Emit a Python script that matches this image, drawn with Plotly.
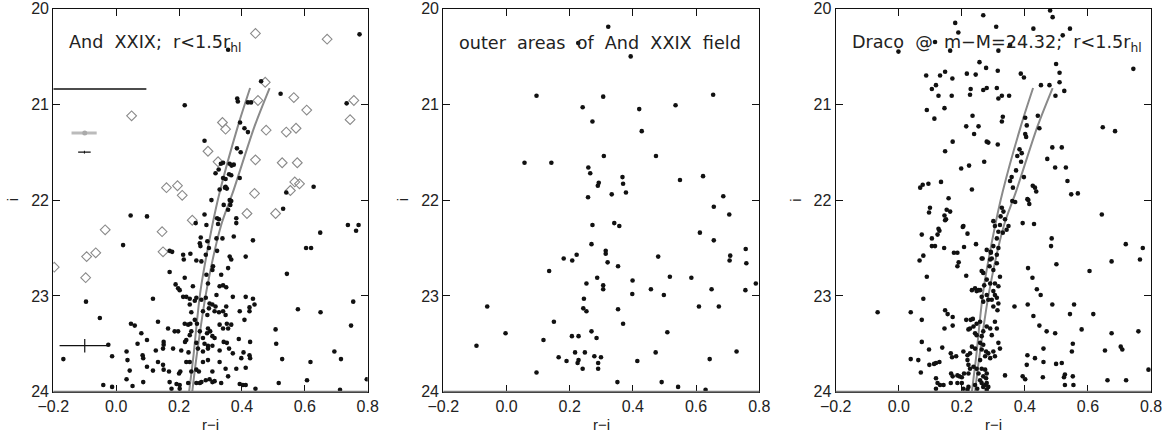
import plotly.graph_objects as go

# ---------------- data ----------------
# Panel 1: And XXIX, r < 1.5 r_hl  (black dots)
p1_ri = [0.774,0.356,0.461,0.523,0.385,0.387,0.419,0.429,0.218,0.733,0.394,0.408,0.419,0.281,0.384,0.396,
0.333,0.340,0.361,0.374,0.367,0.326,0.316,0.359,0.366,0.340,0.348,0.393,0.348,0.352,0.346,0.329,0.303,0.361,
0.366,0.363,0.342,0.356,0.281,0.321,0.327,0.382,0.382,0.253,0.287,0.324,0.098,0.046,
0.269,0.266,0.268,0.295,0.290,0.319,0.338,0.374,0.435,0.170,0.178,0.213,0.215,0.236,0.255,0.271,0.285,0.321,
0.361,0.366,0.412,0.308,0.306,0.356,0.170,0.287,0.334,0.218,0.189,0.197,0.202,0.244,0.292,0.329,0.340,0.350,
0.213,0.223,0.234,0.250,0.255,0.271,0.285,0.319,0.371,0.412,0.435,0.440,0.117,0.234,0.297,0.306,0.295,0.316,
0.350,0.393,0.424,0.239,0.276,0.313,0.327,0.340,0.348,0.290,0.424,0.133,0.165,0.186,0.197,0.218,0.229,0.236,
0.250,0.257,0.292,0.299,0.289,0.306,0.329,0.352,0.366,0.408,0.239,0.234,0.266,0.276,0.340,0.356,0.313,0.342,
0.352,0.390,0.426,0.223,0.219,0.255,0.281,0.292,0.151,0.151,0.080,0.098,0.181,0.126,0.149,0.207,0.230,0.260,
0.276,0.292,0.306,0.329,0.359,0.371,0.405,0.424,0.426,0.398,0.084,0.086,0.098,0.117,0.133,0.149,0.151,0.168,
0.200,0.204,0.223,0.234,0.239,0.255,0.263,0.276,0.292,0.306,0.329,0.348,0.356,0.382,0.412,0.086,0.170,0.192,
0.202,0.229,0.255,0.266,0.271,0.285,0.297,0.306,0.313,0.334,0.393,0.403,0.412,0.443,0.176,0.202,
0.022,-0.096,-0.052,0.047,0.059,0.068,0.033,0.036,0.043,0.033,0.052,-0.013,-0.025,-0.168,-0.041,-0.013,
0.543,0.578,0.650,0.754,0.747,0.694,0.715,0.507,0.509,0.528,0.618,0.607,0.517,0.712,0.797,0.737,0.763,0.771,
0.649,0.604,0.620,0.531,0.541,0.628]
p1_i = [20.27,20.43,20.76,20.89,20.94,20.97,20.98,20.98,21.01,20.99,21.19,21.25,21.29,21.38,21.46,21.50,
21.62,21.61,21.62,21.63,21.64,21.68,21.72,21.73,21.74,21.77,21.78,21.77,21.86,21.88,21.87,21.89,22.00,22.00,
22.01,22.05,22.05,22.10,22.15,22.19,22.20,22.19,22.24,22.24,22.26,22.25,22.17,22.16,
22.39,22.45,22.48,22.50,22.43,22.40,22.40,22.38,22.42,22.53,22.54,22.57,22.62,22.56,22.63,22.64,22.57,22.53,
22.59,22.62,22.59,22.69,22.73,22.71,22.75,22.78,22.78,22.81,22.88,22.92,22.94,22.90,22.87,22.90,22.89,22.91,
23.01,23.01,23.03,23.05,23.02,23.04,23.02,22.99,23.01,23.01,23.03,23.09,23.03,23.09,23.08,23.09,23.13,23.11,
23.11,23.16,23.12,23.17,23.16,23.16,23.17,23.16,23.20,23.20,23.16,23.27,23.34,23.37,23.37,23.29,23.30,23.29,
23.25,23.29,23.34,23.37,23.39,23.42,23.30,23.29,23.30,23.25,23.37,23.41,23.37,23.44,23.34,23.34,23.44,23.48,
23.49,23.45,23.48,23.46,23.48,23.49,23.50,23.52,23.48,23.51,23.39,23.46,23.55,23.57,23.55,23.57,23.59,23.55,
23.58,23.55,23.52,23.57,23.55,23.60,23.59,23.62,23.65,23.65,23.62,23.65,23.74,23.78,23.69,23.72,23.77,23.79,
23.81,23.79,23.69,23.69,23.79,23.77,23.79,23.69,23.67,23.79,23.69,23.76,23.84,23.76,23.75,23.90,23.90,23.92,
23.93,23.91,23.91,23.91,23.90,23.88,23.87,23.90,23.89,23.91,23.92,23.93,23.93,23.97,23.97,23.97,
22.47,23.06,23.23,23.29,23.31,23.50,23.58,23.67,23.78,23.87,23.94,23.63,23.51,23.66,23.93,23.95,
22.77,23.14,23.17,23.06,23.31,23.58,23.66,23.35,23.50,23.66,23.69,23.88,23.91,23.98,23.87,22.26,22.32,22.26,
22.34,22.50,22.50,22.09,21.92,21.86]

# Panel 1: open diamonds
dia_ri = [0.443,0.671,0.474,0.451,0.756,0.565,0.606,0.744,0.049,0.338,0.348,0.477,0.541,0.572,0.292,0.324,
0.443,0.528,0.576,0.568,0.583,0.554,0.440,0.160,0.195,0.210,0.507,0.416,0.242,-0.035,0.146,0.149,-0.094,
-0.065,-0.197,-0.097]
dia_i = [20.26,20.32,20.77,20.96,20.96,20.93,21.06,21.16,21.12,21.19,21.26,21.27,21.29,21.25,21.49,21.60,
21.58,21.61,21.61,21.81,21.83,21.90,21.93,21.87,21.85,21.95,22.14,22.14,22.21,22.31,22.33,22.54,22.59,
22.55,22.70,22.81]

# Panel 2: outer areas of And XXIX field
p2_ri = [0.322,0.227,0.393,0.095,0.306,0.654,0.241,0.420,0.535,0.272,0.428,0.308,0.473,0.057,0.142,0.259,
0.265,0.367,0.369,0.292,0.289,0.378,0.333,0.258,0.622,0.549,0.686,0.656,0.705,0.612,0.656,0.341,0.357,0.272,
0.269,0.314,0.314,0.320,0.353,0.222,0.208,0.181,0.480,0.135,0.287,0.253,0.306,0.306,0.399,0.398,0.457,0.498,
0.517,0.585,0.649,0.756,0.789,0.757,0.708,0.706,0.759,0.245,0.243,0.253,0.353,0.369,0.609,0.672,-0.061,
-0.003,-0.095,0.150,0.117,0.207,0.228,0.269,0.285,0.509,0.217,0.248,0.165,0.190,0.228,0.225,0.241,0.278,
0.299,0.290,0.290,0.095,0.414,0.472,0.643,0.728,0.351,0.491,0.543,0.630]
p2_i = [20.19,20.36,20.50,20.91,20.92,20.90,21.03,21.05,21.01,21.18,21.28,21.54,21.54,21.61,21.61,21.66,
21.72,21.76,21.83,21.82,21.85,21.92,21.94,21.97,21.75,21.79,21.96,22.07,22.15,22.34,22.42,22.24,22.27,22.26,
22.46,22.53,22.56,22.65,22.69,22.57,22.63,22.61,22.59,22.74,22.81,22.87,22.89,22.93,22.84,22.98,22.93,22.99,
22.80,22.81,22.93,22.94,22.87,22.51,22.58,22.63,22.66,23.03,23.13,23.16,23.14,23.29,23.11,23.11,23.11,
23.39,23.52,23.27,23.46,23.42,23.42,23.37,23.44,23.38,23.59,23.59,23.64,23.68,23.67,23.70,23.76,23.63,
23.64,23.70,23.76,23.80,23.68,23.59,23.66,23.58,23.90,23.90,23.95,23.98]

# Panel 3: Draco shifted to m-M = 24.32
p3_ri = [0.268,0.179,0.309,0.189,0.115,0.163,-0.001,0.316,0.480,0.488,0.427,0.543,0.520,0.353,0.256,0.277,
0.314,0.216,0.087,0.131,0.147,0.170,0.244,0.387,0.397,0.499,0.510,0.105,0.118,0.126,0.168,0.228,0.226,0.268,
0.279,0.311,0.316,0.327,0.350,0.451,0.478,0.510,0.525,0.497,0.089,0.145,0.113,0.234,0.330,0.327,0.214,0.253,
0.239,0.171,0.147,0.279,0.284,0.314,0.223,0.198,0.271,0.232,0.068,0.076,0.094,0.134,0.158,0.099,0.096,0.152,
0.163,0.145,0.150,0.126,0.205,0.441,0.401,0.406,0.401,0.404,0.446,0.383,0.390,0.376,0.388,0.372,0.358,0.353,
0.362,0.360,0.369,0.397,0.411,0.414,0.327,0.332,0.323,0.337,0.321,0.300,0.305,0.348,0.342,0.316,0.330,0.393,
0.429,0.425,0.432,0.436,0.408,0.311,0.300,0.316,0.292,0.311,0.295,0.288,0.266,
0.744,0.647,0.686,0.487,0.517,0.471,0.496,0.530,0.535,0.547,0.568,0.644,0.720,0.774,0.765,0.675,0.605,0.500,
0.485,0.483,0.410,0.424,0.438,0.450,0.367,0.409,0.487,0.427,0.446,0.469,0.496,0.543,0.556,0.580,0.617,0.675,
0.704,0.709,0.760,0.654,0.552,0.549,0.517,0.499,0.527,0.524,0.552,0.554,0.527,0.408,0.432,0.459,0.459,0.406,
0.393,0.401,0.457,0.337,0.662,0.721,0.792,-0.067,0.038,
0.147,0.203,0.218,0.073,0.105,0.123,0.129,0.105,0.115,0.144,0.175,0.186,0.207,0.245,0.078,0.066,0.190,0.186,
0.214,0.089,0.263,0.279,0.292,0.290,0.300,0.311,0.263,0.268,0.232,0.242,0.253,0.247,0.258,0.263,0.279,0.268,
0.284,0.300,0.305,0.295,0.311,0.316,0.300,0.313,0.078,0.073,0.147,0.155,0.171,0.145,0.171,0.214,0.228,0.235,
0.221,0.226,0.247,0.258,0.237,0.242,0.247,0.263,0.268,0.279,0.290,0.295,0.305,0.311,0.073,0.096,0.138,0.165,
0.169,0.182,0.205,0.218,0.232,0.242,0.226,0.258,0.268,0.263,0.277,0.284,0.274,0.290,0.300,0.305,0.218,0.038,
0.062,0.097,0.112,0.118,0.129,0.070,0.118,0.123,0.131,0.142,0.118,0.166,0.171,0.165,0.186,0.192,0.200,0.200,
0.186,0.207,0.221,0.226,0.221,0.237,0.247,0.253,0.258,0.263,0.268,0.274,0.279,0.277,0.258,0.263,0.268,0.274,
0.279,0.284,0.279,0.242,0.249,0.221,0.218,0.205,0.279,0.290,0.271,0.305,0.316,0.321,0.316,0.321]
p3_i = [20.07,20.15,20.19,20.25,20.35,20.44,20.45,20.44,20.02,20.09,20.21,20.21,20.28,20.38,20.56,20.62,
20.65,20.68,20.70,20.70,20.66,20.73,20.69,20.68,20.72,20.58,20.67,20.84,20.80,20.91,20.91,20.84,20.90,20.85,
20.83,20.83,20.94,20.91,20.91,20.80,20.80,20.77,20.86,20.91,21.06,21.04,21.15,21.12,21.13,21.18,21.23,21.23,
21.31,21.39,21.49,21.39,21.40,21.42,21.64,21.67,21.60,21.89,21.87,21.84,21.83,21.81,21.98,22.08,22.13,22.10,
22.12,22.16,22.20,22.30,22.27,21.12,21.14,21.22,21.31,21.34,21.25,21.47,21.51,21.54,21.60,21.69,21.76,21.80,
21.87,22.01,22.02,21.76,22.00,22.04,22.08,22.12,22.17,22.20,22.26,22.22,22.27,22.27,22.31,22.33,22.34,22.24,
22.25,21.85,21.87,21.91,21.99,22.40,22.48,22.50,22.54,22.57,22.61,22.69,22.61,
20.63,21.24,21.28,21.45,21.45,21.57,21.66,21.66,21.80,21.94,21.93,22.15,22.46,22.50,22.62,22.64,22.74,22.67,
22.40,22.48,22.71,22.81,22.93,22.99,23.11,23.09,23.09,23.21,23.31,23.37,23.39,23.19,23.09,23.35,23.19,23.39,
23.53,23.56,23.37,23.57,23.50,23.58,23.70,23.71,23.82,23.85,23.84,23.93,23.93,23.62,23.65,23.55,23.69,23.72,
23.84,23.87,23.85,23.83,23.88,23.88,23.77,23.17,23.17,
22.21,22.28,22.35,22.36,22.40,22.36,22.32,22.48,22.48,22.50,22.55,22.55,22.49,22.46,22.58,22.63,22.65,22.69,
22.79,22.80,22.61,22.52,22.55,22.62,22.73,22.66,22.74,22.76,22.94,22.92,22.94,22.95,22.94,23.01,22.99,23.06,
23.04,22.95,22.99,23.04,23.02,23.08,23.11,23.15,23.03,23.25,23.15,23.19,23.22,23.34,23.31,23.25,23.25,23.24,
23.35,23.34,23.29,23.27,23.32,23.39,23.41,23.42,23.37,23.32,23.34,23.41,23.27,23.34,23.48,23.56,23.54,23.60,
23.64,23.63,23.58,23.62,23.53,23.55,23.60,23.49,23.51,23.56,23.58,23.60,23.63,23.65,23.58,23.63,23.67,23.66,
23.67,23.72,23.71,23.70,23.69,23.80,23.86,23.91,23.93,23.93,23.97,23.81,23.84,23.91,23.83,23.84,23.85,23.91,
23.91,23.81,23.72,23.76,23.81,23.74,23.76,23.81,23.67,23.76,23.84,23.77,23.81,23.86,23.88,23.91,23.95,23.93,
23.91,23.95,23.98,23.93,23.97,23.95,23.98,23.97,22.83,22.87,22.89,22.87,22.90,22.80,23.49,23.55]

# Isochrone ridge lines (same in panels 1 and 3)
iso_a_ri = [0.426,0.387,0.329,0.306,0.268,0.245,0.232]
iso_b_ri = [0.488,0.440,0.371,0.334,0.287,0.255,0.242]
iso_i = [20.83,21.23,21.92,22.26,22.95,23.65,24.00]

# Panel 1 reference marks (limit line and photometric error bars)
limit_ri = [-0.2, 0.096]
limit_i = [20.84, 20.84]
errg_ri = [-0.142, -0.062]; errg_i = 21.30; errg_c = -0.10
errk_ri = [-0.121, -0.081]; errk_i = 21.50; errk_c = -0.101; errk_di = 0.015
errb_ri = [-0.180, -0.025]; errb_i = 23.52; errb_c = -0.10; errb_di = 0.07

x_ticks = [-0.2, 0.0, 0.2, 0.4, 0.6, 0.8]
x_ticktext = ["\u22120.2", "0.0", "0.2", "0.4", "0.6", "0.8"]
y_ticks = [20, 21, 22, 23, 24]

panel_titles = ["And\u00a0\u00a0XXIX;\u00a0\u00a0r&lt;1.5r<sub>hl</sub>",
                "outer\u00a0\u00a0areas\u00a0\u00a0of\u00a0\u00a0And\u00a0\u00a0XXIX\u00a0\u00a0field",
                "Draco\u00a0\u00a0@\u00a0\u00a0m\u2212M=24.32;\u00a0\u00a0r&lt;1.5r<sub>hl</sub>"]

# ---------------- figure ----------------
W, H = 1167, 433
xdom = [(53.3 / W, 367.7 / W), (443.3 / W, 759.3 / W), (835.7 / W, 1151.0 / W)]
ydom = (1 - 391.7 / H, 1 - 8.5 / H)

FONT = "Liberation Sans"
TFONT = "DejaVu Sans"
DOT = "#111111"
GRAY = "#8a8a8a"

fig = go.Figure()

def add_dots(xs, ys, k):
    ax = "" if k == 1 else str(k)
    fig.add_trace(go.Scatter(x=xs, y=ys, mode="markers", xaxis="x" + ax, yaxis="y" + ax,
                             marker=dict(color=DOT, size=4.6, line=dict(width=0)),
                             showlegend=False, hoverinfo="skip", cliponaxis=True))

def add_iso(k):
    ax = "" if k == 1 else str(k)
    for xs in (iso_a_ri, iso_b_ri):
        fig.add_trace(go.Scatter(x=xs, y=iso_i, mode="lines", xaxis="x" + ax, yaxis="y" + ax,
                                 line=dict(color=GRAY, width=2, shape="spline", smoothing=0.8),
                                 showlegend=False, hoverinfo="skip"))

# panel 1
add_iso(1)
fig.add_trace(go.Scatter(x=dia_ri, y=dia_i, mode="markers", xaxis="x", yaxis="y",
                         marker=dict(symbol="diamond-open", color=GRAY, size=7.5, line=dict(width=1.1, color=GRAY)),
                         showlegend=False, hoverinfo="skip"))
add_dots(p1_ri, p1_i, 1)
fig.add_trace(go.Scatter(x=limit_ri, y=limit_i, mode="lines", line=dict(color="#111", width=1.5),
                         showlegend=False, hoverinfo="skip"))
fig.add_trace(go.Scatter(x=errg_ri, y=[errg_i, errg_i], mode="lines", line=dict(color="#bbbbbb", width=3),
                         showlegend=False, hoverinfo="skip"))
fig.add_trace(go.Scatter(x=[errg_c], y=[errg_i], mode="markers", marker=dict(color="#aaaaaa", size=5),
                         showlegend=False, hoverinfo="skip"))
fig.add_trace(go.Scatter(x=errk_ri, y=[errk_i, errk_i], mode="lines", line=dict(color="#111", width=1.2),
                         showlegend=False, hoverinfo="skip"))
fig.add_trace(go.Scatter(x=[errk_c, errk_c], y=[errk_i - errk_di, errk_i + errk_di], mode="lines",
                         line=dict(color="#111", width=1), showlegend=False, hoverinfo="skip"))
fig.add_trace(go.Scatter(x=errb_ri, y=[errb_i, errb_i], mode="lines", line=dict(color="#111", width=1.2),
                         showlegend=False, hoverinfo="skip"))
fig.add_trace(go.Scatter(x=[errb_c, errb_c], y=[errb_i - errb_di, errb_i + errb_di], mode="lines",
                         line=dict(color="#111", width=1.2), showlegend=False, hoverinfo="skip"))

# panel 2
add_dots(p2_ri, p2_i, 2)

# panel 3
add_iso(3)
add_dots(p3_ri, p3_i, 3)

axis_font = dict(family=FONT, size=16, color="#222")
layout = dict(width=W, height=H, margin=dict(l=0, r=0, t=0, b=0, pad=0),
              paper_bgcolor="white", plot_bgcolor="white", showlegend=False,
              font=dict(family=FONT, color="#222"))
shapes = []
annotations = []
for k in range(1, 4):
    ax = "" if k == 1 else str(k)
    layout["xaxis" + ax] = dict(domain=list(xdom[k - 1]), range=[-0.2, 0.8], anchor="y" + ax,
                                tickvals=x_ticks, ticktext=x_ticktext, ticks="inside", ticklen=7,
                                tickcolor="#111", tickwidth=1, showline=True, linecolor="#111", linewidth=1.2,
                                mirror="all", showgrid=False, zeroline=False, tickfont=axis_font,
                                automargin=False, fixedrange=True)
    layout["yaxis" + ax] = dict(domain=list(ydom), range=[24.0001, 19.9999], anchor="x" + ax,
                                tickvals=y_ticks, ticks="inside", ticklen=7, tickcolor="#111", tickwidth=1,
                                showline=True, linecolor="#111", linewidth=1.2, mirror="all",
                                showgrid=False, zeroline=False, tickfont=axis_font,
                                automargin=False, fixedrange=True)
    # bottom frame drawn grey as in the original
    shapes.append(dict(type="line", xref="x" + ax + " domain", yref="y" + ax + " domain",
                       x0=0, x1=1, y0=0, y1=0, line=dict(color="#7a7a7a", width=1.8), layer="above"))
    cx = (xdom[k - 1][0] + xdom[k - 1][1]) / 2
    annotations.append(dict(text="r\u2212i", x=cx, y=1 - 424 / H, xref="paper", yref="paper",
                            showarrow=False, font=dict(family=FONT, size=15, color="#222"),
                            xanchor="center", yanchor="middle"))
    annotations.append(dict(text="i", x=(xdom[k - 1][0] * W - 40) / W, y=1 - 200 / H, xref="paper",
                            yref="paper", showarrow=False, textangle=-90,
                            font=dict(family=FONT, size=15, color="#222"),
                            xanchor="center", yanchor="middle"))
    annotations.append(dict(text=panel_titles[k - 1], x=xdom[k - 1][0] + 14 / W, y=1 - 43 / H,
                            xref="paper", yref="paper", showarrow=False, xanchor="left",
                            yanchor="middle", font=dict(family=TFONT, size=17.6, color="#222")))

layout["shapes"] = shapes
layout["annotations"] = annotations
fig.update_layout(**layout)

fig.write_html("out.html", config={"displayModeBar": False},
               post_script="document.body.style.margin='0px';document.body.style.overflow='hidden';")
